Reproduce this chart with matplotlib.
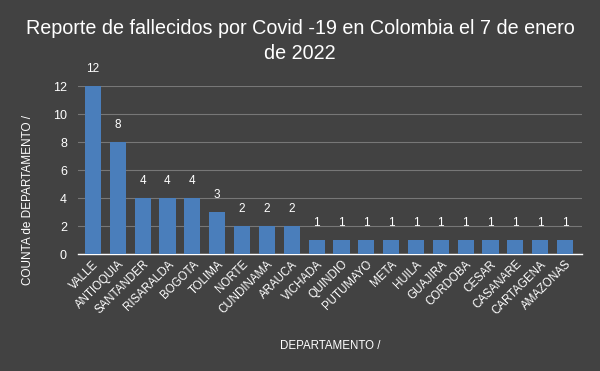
import matplotlib.pyplot as plt

departamentos = ["VALLE", "ANTIOQUIA", "SANTANDER", "RISARALDA", "BOGOTA", "TOLIMA",
                 "NORTE", "CUNDINAMA", "ARAUCA", "VICHADA", "QUINDIO", "PUTUMAYO",
                 "META", "HUILA", "GUAJIRA", "CORDOBA", "CESAR", "CASANARE",
                 "CARTAGENA", "AMAZONAS"]
fallecidos = [12, 8, 4, 4, 4, 3, 2, 2, 2, 1, 1, 1, 1, 1, 1, 1, 1, 1, 1, 1]

bg = '#424242'
plt.rcParams['font.family'] = ['Liberation Sans', 'DejaVu Sans']

fig = plt.figure(figsize=(6, 3.71), dpi=100, facecolor=bg)
ax = fig.add_axes([0.13, 0.315, 0.84, 0.453], facecolor=bg)

x = range(len(departamentos))
bars = ax.bar(x, fallecidos, width=0.65, color='#4a7ebb', zorder=3)

# value labels over each bar
for xi, v in zip(x, fallecidos):
    ax.annotate(str(v), (xi, v), xytext=(0, 8), textcoords='offset points',
                ha='center', va='bottom', color='white', fontsize=8.5)

ax.set_xlim(-0.6, 19.68)
ax.set_ylim(0, 12)
ax.set_yticks(range(0, 13, 2))
ax.grid(axis='y', color='#777777', linewidth=0.8, zorder=0)
for s in ['top', 'right', 'left']:
    ax.spines[s].set_visible(False)
ax.spines['bottom'].set_color('white')
ax.spines['bottom'].set_linewidth(1)

ax.set_xticks(list(x))
ax.set_xticklabels(departamentos, rotation=45, ha='right', rotation_mode='anchor',
                   fontsize=8.3, color='white')
ax.tick_params(axis='y', colors='white', labelsize=9, length=0, pad=8)
ax.tick_params(axis='x', length=0, pad=3)

ax.set_ylabel("COUNTA de DEPARTAMENTO /", color='white', fontsize=8.5)
ax.yaxis.set_label_coords(-0.088, 0.32)
ax.set_xlabel("DEPARTAMENTO /", color='white', fontsize=8.3, labelpad=17)
fig.suptitle("Reporte de fallecidos por Covid -19 en Colombia el 7 de enero\nde 2022",
             x=0.5, y=0.95, color='white', fontsize=14.2, linespacing=1.45)

fig.savefig("out.png", dpi=100, facecolor=bg)
